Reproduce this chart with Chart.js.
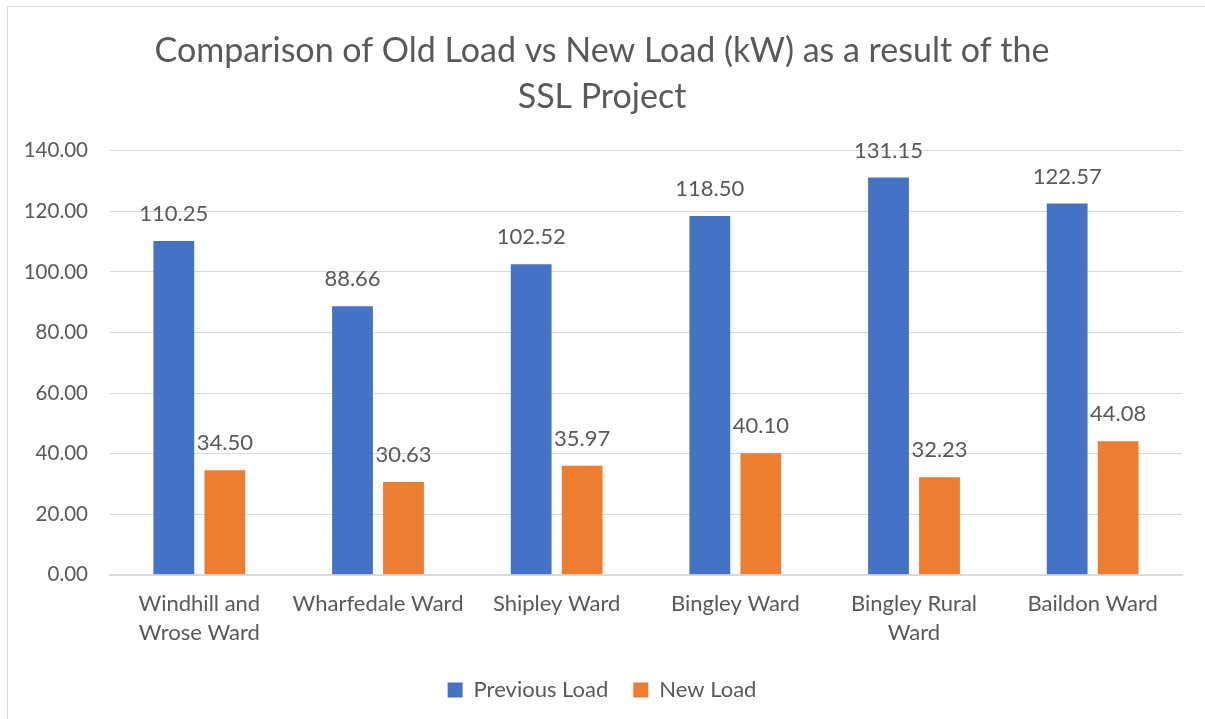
<!DOCTYPE html>
<html>
<head>
<meta charset="utf-8">
<script src="https://cdn.jsdelivr.net/npm/chart.js@4/dist/chart.umd.min.js"></script>
<style>
  body { margin: 0; background: #fff; }
  #frame { position: absolute; left: 7px; top: 6px; width: 1210px; height: 720px; border: 1px solid #d9d9d9; box-sizing: border-box; }
  #chart { position: absolute; left: 0; top: 0; }
</style>
</head>
<body>
<div id="frame"><canvas id="chart" width="1208" height="718"></canvas></div>
<script>
// Chart data
const wards = [["Windhill and", "Wrose Ward"], "Wharfedale Ward", "Shipley Ward", "Bingley Ward", ["Bingley Rural", "Ward"], "Baildon Ward"];
const previousLoad = [110.25, 88.66, 102.52, 118.50, 131.15, 122.57];
const newLoad = [34.50, 30.63, 35.97, 40.10, 32.23, 44.08];
const titleLines = ["Comparison of Old Load vs New Load (kW) as a result of the", "SSL Project"];

const textColor = "#595959";
const fontFamily = "Lato, 'Open Sans', sans-serif";

// Draw value labels above every bar
const valueLabels = {
    id: "valueLabels",
    afterDatasetsDraw(chart) {
        const ctx = chart.ctx;
        ctx.save();
        ctx.font = "22px " + fontFamily;
        ctx.fillStyle = textColor;
        ctx.textAlign = "center";
        ctx.textBaseline = "bottom";
        chart.data.datasets.forEach((ds, i) => {
            chart.getDatasetMeta(i).data.forEach((bar, j) => {
                ctx.fillText(ds.data[j].toFixed(2), bar.x, bar.y - 16);
            });
        });
        ctx.restore();
    }
};

new Chart(document.getElementById("chart"), {
    type: "bar",
    data: {
        labels: wards,
        datasets: [
            { label: "Previous Load", data: previousLoad, backgroundColor: "#4472c4" },
            { label: "New Load", data: newLoad, backgroundColor: "#ed7d31" }
        ]
    },
    options: {
        responsive: false,
        animation: false,
        layout: { padding: { left: 14, right: 34, top: 10, bottom: 14 } },
        datasets: { bar: { categoryPercentage: 0.571, barPercentage: 0.8 } },
        plugins: {
            title: {
                display: true,
                text: titleLines,
                color: textColor,
                font: { family: fontFamily, size: 34, weight: "normal", lineHeight: 1.35 },
                padding: { top: 11, bottom: 31 }
            },
            legend: {
                position: "bottom",
                labels: {
                    color: textColor,
                    font: { family: fontFamily, size: 22 },
                    boxWidth: 15,
                    boxHeight: 15,
                    padding: 25
                }
            },
            tooltip: { enabled: false }
        },
        scales: {
            x: {
                grid: { display: false },
                border: { color: "#d9d9d9", width: 2 },
                ticks: { color: textColor, font: { family: fontFamily, size: 22, lineHeight: 1.3 }, padding: 7, maxRotation: 0 }
            },
            y: {
                min: 0,
                max: 140,
                afterFit: scale => { scale.width = 88; },
                ticks: {
                    stepSize: 20,
                    color: textColor,
                    font: { family: fontFamily, size: 20.5 },
                    padding: 22,
                    callback: v => v.toFixed(2)
                },
                grid: { color: "#d9d9d9", drawTicks: false },
                border: { display: false }
            }
        }
    },
    plugins: [valueLabels]
});
</script>
</body>
</html>
